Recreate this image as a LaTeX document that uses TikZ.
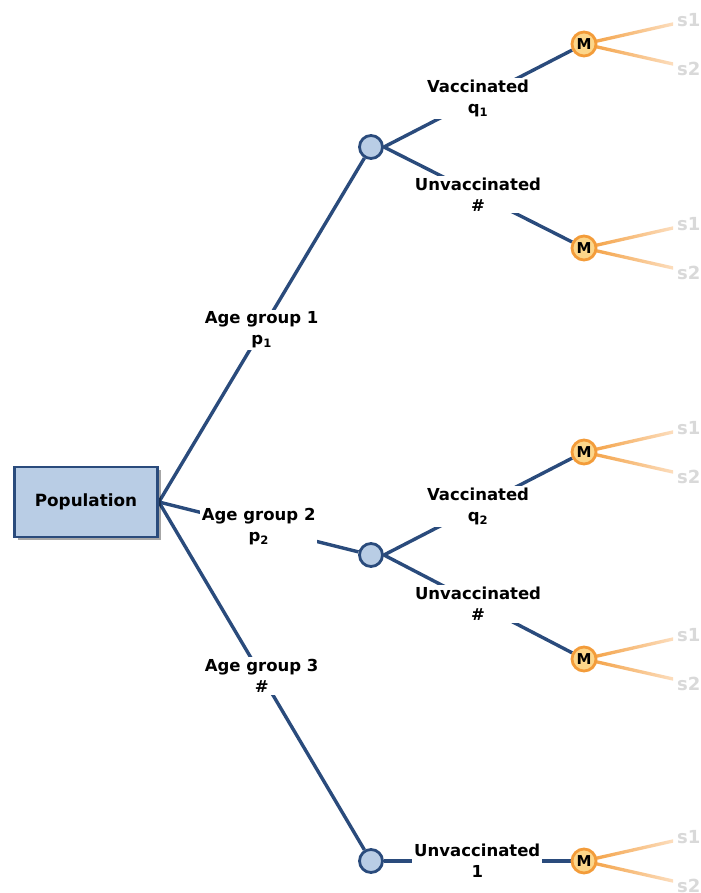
\documentclass[tikz,border=0pt]{standalone}
\usepackage{fontspec}
\setmainfont{DejaVu Sans}
\usetikzlibrary{shadows,calc}
\definecolor{navy}{HTML}{2A4B7C}
\definecolor{boxfill}{HTML}{B9CDE5}
\definecolor{mfill}{HTML}{FCD68A}
\definecolor{morange}{HTML}{F39C3A}
\definecolor{mpale}{HTML}{FCDDBD}
\definecolor{sgrey}{HTML}{D9D9D9}
\pgfdeclarelayer{bg}
\pgfdeclarelayer{paper}
\pgfsetlayers{paper,bg,main}
\begin{document}
\begin{tikzpicture}[x=1pt,y=-1pt,
  rootbox/.style={draw=navy, line width=2.8pt, fill=boxfill, minimum width=143pt, minimum height=70pt,
    font=\bfseries\fontsize{16.8}{19}\selectfont,
    drop shadow={shadow xshift=3pt, shadow yshift=-3pt, opacity=0.35, fill=black}},
  chance/.style={circle, draw=navy, line width=2.8pt, fill=boxfill, minimum size=23pt, inner sep=0pt},
  mnode/.style={circle, draw=morange, line width=2.8pt, fill=mfill, minimum size=24pt, inner sep=0pt,
    font=\bfseries\fontsize{15}{15}\selectfont},
  branch/.style={draw=navy, line width=3.4pt},
  lab/.style={fill=white, inner sep=2pt, align=center, font=\bfseries\fontsize{16.5}{21}\selectfont},
  outc/.style={anchor=west, text=sgrey, inner sep=0pt, font=\bfseries\fontsize{18}{18}\selectfont}]
\begin{pgfonlayer}{paper}
\useasboundingbox[fill=white] (0,0) rectangle (700,893);
\end{pgfonlayer}

\node[rootbox] (pop) at (86,502) {Population};
\node[chance] (c1) at (371,147) {};
\node[chance] (c2) at (371,555) {};
\node[chance] (c3) at (371,861) {};
\node[mnode] (m1) at (584,44) {M};
\node[mnode] (m2) at (584,248) {M};
\node[mnode] (m3) at (584,452) {M};
\node[mnode] (m4) at (584,659) {M};
\node[mnode] (m5) at (584,861) {M};

\begin{pgfonlayer}{bg}
\draw[branch] (pop.east) -- node[lab]{Age group 1\\p\textsubscript{1}} (c1);
\draw[branch] (pop.east) -- node[lab]{Age group 2\\p\textsubscript{2}} (c2);
\draw[branch] (pop.east) -- node[lab]{Age group 3\\\#} (c3);
\draw[branch] (c1.east) -- node[lab]{Vaccinated\\q\textsubscript{1}} (m1);
\draw[branch] (c1.east) -- node[lab]{Unvaccinated\\\#} (m2);
\draw[branch] (c2.east) -- node[lab]{Vaccinated\\q\textsubscript{2}} (m3);
\draw[branch] (c2.east) -- node[lab]{Unvaccinated\\\#} (m4);
\draw[branch] (c3.east) -- node[lab]{Unvaccinated\\1} (m5);
\foreach \m in {m1,m2,m3,m4,m5} {
  \coordinate (\m a) at ($(\m.center)+(89,-20)$);
  \coordinate (\m b) at ($(\m.center)+(89,20)$);
  \shade[left color=morange, right color=mpale]
    ($(\m.center)+(0,-1.7)$) -- ($(\m a)+(0,-1.7)$) -- ($(\m a)+(0,1.7)$) -- ($(\m.center)+(0,1.7)$) -- cycle;
  \shade[left color=morange, right color=mpale]
    ($(\m.center)+(0,-1.7)$) -- ($(\m b)+(0,-1.7)$) -- ($(\m b)+(0,1.7)$) -- ($(\m.center)+(0,1.7)$) -- cycle;
}
\end{pgfonlayer}
\foreach \m in {m1,m2,m3,m4,m5} {
  \node[outc] (\m s1) at ($(\m.center)+(93,-24)$) {s1};
  \node[outc] (\m s2) at ($(\m.center)+(93,25)$) {s2};
}
\end{tikzpicture}
\end{document}
